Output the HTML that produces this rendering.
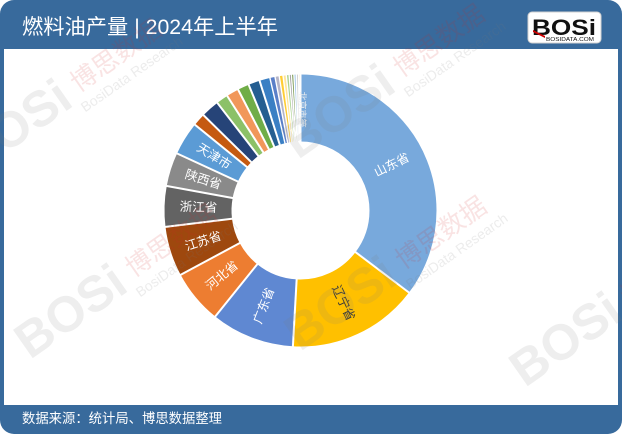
<!DOCTYPE html>
<html><head><meta charset="utf-8"><style>
html,body{margin:0;padding:0;background:#fff;width:622px;height:434px;overflow:hidden}
svg{display:block;font-family:"Liberation Sans","Noto Sans CJK SC",sans-serif}
</style></head><body>
<svg width="622" height="434" viewBox="0 0 622 434" xmlns="http://www.w3.org/2000/svg">
<rect x="0" y="0" width="622" height="434" rx="14" fill="#386a9c"/>
<rect x="4" y="49" width="614" height="356" fill="#ffffff"/>
<text x="22" y="34" font-size="21" fill="#ffffff" textLength="256" lengthAdjust="spacingAndGlyphs">燃料油产量 | 2024年上半年</text>
<text x="22" y="423" font-size="13.5" fill="#ffffff" textLength="200" lengthAdjust="spacingAndGlyphs">数据来源：统计局、博思数据整理</text>
<!-- logo -->
<rect x="528" y="12" width="73" height="31" rx="4" fill="#ffffff" stroke="#d0d0d0" stroke-width="1"/>
<text x="532" y="35" font-size="22" font-weight="bold" fill="#111" textLength="64" lengthAdjust="spacingAndGlyphs">BOSi</text>
<polygon points="533,30 545,36 545,38 533,32" fill="#c00"/>
<text x="546" y="41" font-size="5.5" fill="#111" textLength="48" lengthAdjust="spacingAndGlyphs">BOSIDATA.COM</text>

<g transform="translate(300.5,210.5)" fill="none" stroke-width="67">
<circle r="102.5" stroke="#78a9dc" stroke-dasharray="227.7 700" transform="rotate(-90)"/>
<circle r="102.5" stroke="#ffc000" stroke-dasharray="100.7 700" transform="rotate(37.1)"/>
<circle r="102.5" stroke="#5f88d2" stroke-dasharray="64.0 700" transform="rotate(93.2)"/>
<circle r="102.5" stroke="#ed7d31" stroke-dasharray="41.5 700" transform="rotate(128.8)"/>
<circle r="102.5" stroke="#9e480e" stroke-dasharray="38.4 700" transform="rotate(151.8)"/>
<circle r="102.5" stroke="#636363" stroke-dasharray="31.3 700" transform="rotate(173.1)"/>
<circle r="102.5" stroke="#8a8a8a" stroke-dasharray="26.1 700" transform="rotate(190.4)"/>
<circle r="102.5" stroke="#5b9bd5" stroke-dasharray="25.9 700" transform="rotate(204.8)"/>
<circle r="102.5" stroke="#c55a11" stroke-dasharray="10.0 700" transform="rotate(219.1)"/>
<circle r="102.5" stroke="#264478" stroke-dasharray="14.3 700" transform="rotate(224.5)"/>
<circle r="102.5" stroke="#8cc168" stroke-dasharray="9.4 700" transform="rotate(232.3)"/>
<circle r="102.5" stroke="#f1975a" stroke-dasharray="9.8 700" transform="rotate(237.4)"/>
<circle r="102.5" stroke="#70ad47" stroke-dasharray="9.1 700" transform="rotate(242.7)"/>
<circle r="102.5" stroke="#255e91" stroke-dasharray="9.1 700" transform="rotate(247.6)"/>
<circle r="102.5" stroke="#3a7fc4" stroke-dasharray="8.4 700" transform="rotate(252.5)"/>
<circle r="102.5" stroke="#5a7fc8" stroke-dasharray="4.2 700" transform="rotate(257)"/>
<circle r="102.5" stroke="#b4b4c8" stroke-dasharray="3.5 700" transform="rotate(259.2)"/>
<circle r="102.5" stroke="#ffcd33" stroke-dasharray="3.1 700" transform="rotate(261)"/>
<circle r="102.5" stroke="#ffe699" stroke-dasharray="2.8 700" transform="rotate(262.6)"/>
<circle r="102.5" stroke="#a9d18e" stroke-dasharray="2.4 700" transform="rotate(264)"/>
<circle r="102.5" stroke="#9e9e9e" stroke-dasharray="2.1 700" transform="rotate(265.2)"/>
<circle r="102.5" stroke="#6b8e3e" stroke-dasharray="2.1 700" transform="rotate(266.2)"/>
<circle r="102.5" stroke="#9dc3e6" stroke-dasharray="2.1 700" transform="rotate(267.2)"/>
<circle r="102.5" stroke="#d0d0d0" stroke-dasharray="2.1 700" transform="rotate(268.2)"/>
<circle r="102.5" stroke="#f4d27a" stroke-dasharray="1.6 700" transform="rotate(269.2)"/>
</g>
<g transform="translate(300.5,210.5)" stroke="#ffffff" stroke-width="2">
<line x1="0" y1="-67" x2="0" y2="-138" transform="rotate(0)"/>
<line x1="0" y1="-67" x2="0" y2="-138" transform="rotate(127.1)"/>
<line x1="0" y1="-67" x2="0" y2="-138" transform="rotate(183.2)"/>
<line x1="0" y1="-67" x2="0" y2="-138" transform="rotate(218.8)"/>
<line x1="0" y1="-67" x2="0" y2="-138" transform="rotate(241.8)"/>
<line x1="0" y1="-67" x2="0" y2="-138" transform="rotate(263.1)"/>
<line x1="0" y1="-67" x2="0" y2="-138" transform="rotate(280.4)"/>
<line x1="0" y1="-67" x2="0" y2="-138" transform="rotate(294.8)"/>
<line x1="0" y1="-67" x2="0" y2="-138" transform="rotate(309.1)"/>
<line x1="0" y1="-67" x2="0" y2="-138" transform="rotate(314.5)"/>
<line x1="0" y1="-67" x2="0" y2="-138" transform="rotate(322.3)"/>
<line x1="0" y1="-67" x2="0" y2="-138" transform="rotate(327.4)"/>
<line x1="0" y1="-67" x2="0" y2="-138" transform="rotate(332.7)"/>
<line x1="0" y1="-67" x2="0" y2="-138" transform="rotate(337.6)"/>
<line x1="0" y1="-67" x2="0" y2="-138" transform="rotate(342.5)"/>
<g stroke-width="1.4">
<line x1="0" y1="-67" x2="0" y2="-138" transform="rotate(347)"/>
<line x1="0" y1="-67" x2="0" y2="-138" transform="rotate(349.2)"/>
<line x1="0" y1="-67" x2="0" y2="-138" transform="rotate(351)"/>
<line x1="0" y1="-67" x2="0" y2="-138" transform="rotate(352.6)"/>
<line x1="0" y1="-67" x2="0" y2="-138" transform="rotate(354)"/>
<line x1="0" y1="-67" x2="0" y2="-138" transform="rotate(355.2)"/>
<line x1="0" y1="-67" x2="0" y2="-138" transform="rotate(356.2)"/>
<line x1="0" y1="-67" x2="0" y2="-138" transform="rotate(357.2)"/>
<line x1="0" y1="-67" x2="0" y2="-138" transform="rotate(358.2)"/>
<line x1="0" y1="-67" x2="0" y2="-138" transform="rotate(359.2)"/>
</g>
</g>
<g transform="translate(300.5,210.5)" font-size="12.5" fill="#ffffff" text-anchor="middle" dominant-baseline="central">
<text transform="rotate(63.5) translate(0,-102) rotate(-90)">山东省</text>
<text transform="rotate(155.15) translate(0,-102) rotate(-90)" fill="#3a3a3a">辽宁省</text>
<text transform="rotate(201) translate(0,-102) rotate(90)">广东省</text>
<text transform="rotate(230.3) translate(0,-102) rotate(90)">河北省</text>
<text transform="rotate(252.45) translate(0,-102) rotate(90)">江苏省</text>
<text transform="rotate(271.75) translate(0,-102) rotate(90)">浙江省</text>
<text transform="rotate(287.6) translate(0,-102) rotate(90)">陕西省</text>
<text transform="rotate(301.95) translate(0,-102) rotate(90)">天津市</text>
<text transform="rotate(1) translate(0,-101) rotate(90)" font-size="9" fill="#f0f0f0">北京市等</text>
</g>

<!-- watermarks -->
<g font-family="Liberation Sans,Noto Sans CJK SC,sans-serif">
<g transform="translate(-25,175) rotate(-35)">
<text font-size="50" font-weight="bold" fill="rgba(120,120,120,0.13)">BOSi</text>
<text x="132" y="-8" font-size="26" fill="rgba(210,40,40,0.13)">博思数据</text>
<text x="126" y="12" font-size="14" fill="rgba(120,120,120,0.14)">BosiData Research</text>
</g>
<g transform="translate(30,360) rotate(-35)">
<text font-size="50" font-weight="bold" fill="rgba(120,120,120,0.13)">BOSi</text>
<text x="132" y="-8" font-size="26" fill="rgba(210,40,40,0.13)">博思数据</text>
<text x="126" y="12" font-size="14" fill="rgba(120,120,120,0.14)">BosiData Research</text>
</g>
<g transform="translate(298,160) rotate(-35)">
<text font-size="50" font-weight="bold" fill="rgba(120,120,120,0.13)">BOSi</text>
<text x="132" y="-8" font-size="26" fill="rgba(210,40,40,0.13)">博思数据</text>
<text x="126" y="12" font-size="14" fill="rgba(120,120,120,0.14)">BosiData Research</text>
</g>
<g transform="translate(300,352) rotate(-35)">
<text font-size="50" font-weight="bold" fill="rgba(120,120,120,0.13)">BOSi</text>
<text x="132" y="-8" font-size="26" fill="rgba(210,40,40,0.13)">博思数据</text>
<text x="126" y="12" font-size="14" fill="rgba(120,120,120,0.14)">BosiData Research</text>
</g>
<g transform="translate(525,388) rotate(-35)">
<text font-size="50" font-weight="bold" fill="rgba(120,120,120,0.13)">BOSi</text>
<text x="132" y="-8" font-size="26" fill="rgba(210,40,40,0.13)">博思数据</text>
</g>
</g>
</svg>
</body></html>
